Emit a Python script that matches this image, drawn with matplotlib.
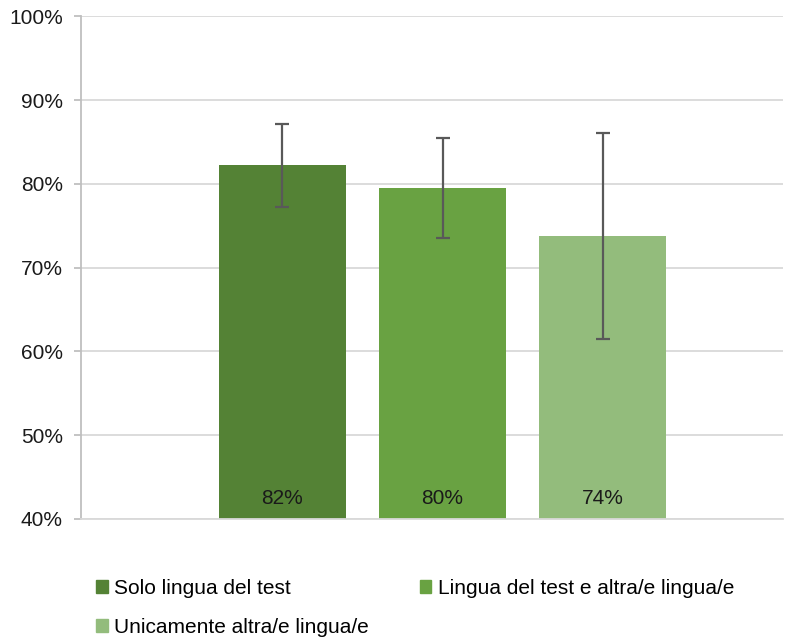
import matplotlib.pyplot as plt
from matplotlib.patches import Patch

plt.rcParams['font.family'] = ['Liberation Sans', 'DejaVu Sans']

series = ['Solo lingua del test', 'Lingua del test e altra/e lingua/e',
          'Unicamente altra/e lingua/e']
values = [82.3, 79.55, 73.8]
err_low = [5.05, 5.95, 12.35]
err_high = [4.85, 5.95, 12.25]
labels = ['82%', '80%', '74%']
colors = ['#548235', '#69A242', '#93BC7C']
yticks = [40, 50, 60, 70, 80, 90, 100]

fig = plt.figure(figsize=(7.96, 6.39), dpi=100)
ax = fig.add_axes([0.1018, 0.1878, 0.8819, 0.7864])

xs = [0, 1, 2]
ax.bar(xs, [v - 40 for v in values], bottom=40, width=0.794, color=colors, zorder=2)
ax.errorbar(xs, values, yerr=[err_low, err_high], fmt='none', ecolor='#595959',
            elinewidth=1.6, capsize=5, capthick=1.6, zorder=3)
for x, lab in zip(xs, labels):
    ax.text(x, 42.4, lab, ha='center', va='center', fontsize=15, color='#1a1a1a', zorder=4)

ax.set_xlim(-1.259, 3.128)
ax.set_ylim(40, 100)
ax.set_yticks(yticks)
ax.set_yticklabels([f'{t}%' for t in yticks], fontsize=15)
ax.set_xticks([])
ax.grid(axis='y', color='#d9d9d9', linewidth=1.3, zorder=0)
for s in ['top', 'right']:
    ax.spines[s].set_visible(False)
ax.spines['left'].set_color('#bfbfbf')
ax.spines['bottom'].set_color('#d9d9d9')
ax.spines['left'].set_linewidth(1.3)
ax.spines['bottom'].set_linewidth(1.3)
ax.tick_params(axis='y', length=5, color='#bfbfbf', width=1.3, pad=8, labelcolor='#1a1a1a')

# legend fills column by column, so reorder to get the reference's row order
order = [0, 2, 1]
handles = [Patch(color=colors[i]) for i in order]
fig.legend(handles, [series[i] for i in order], ncol=2, loc='upper left',
           bbox_to_anchor=(0.108, 0.11), frameon=False, fontsize=15,
           handlelength=0.55, handleheight=0.55, handletextpad=0.3,
           columnspacing=2.45, labelspacing=0.95, borderpad=0)

fig.savefig('out.png', dpi=100)
